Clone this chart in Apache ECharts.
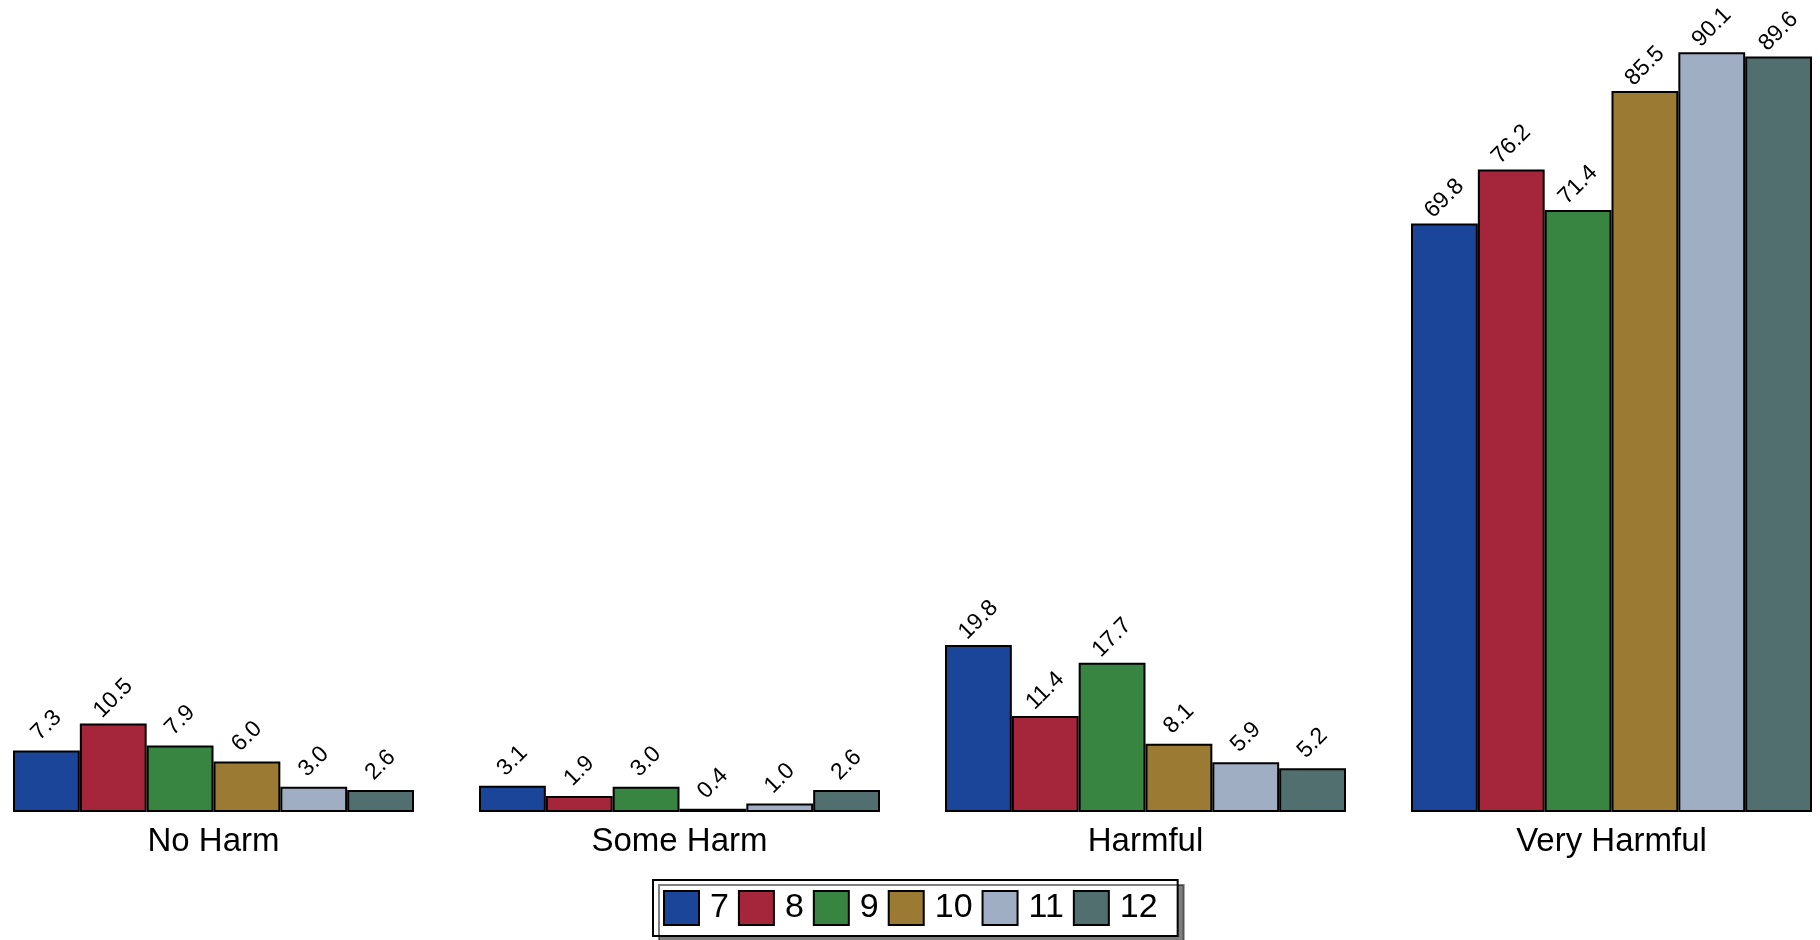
<!DOCTYPE html>
<html>
<head>
<meta charset="utf-8">
<script src="https://cdn.jsdelivr.net/npm/echarts@6/dist/echarts.min.js"></script>
<style>
html,body{margin:0;padding:0;background:#fff;}
#chart{width:1820px;height:940px;}
</style>
</head>
<body>
<div id="chart"></div>
<script>
var categories = ['No Harm', 'Some Harm', 'Harmful', 'Very Harmful'];
var grades = ['7', '8', '9', '10', '11', '12'];
var grade7 = [7.3, 3.1, 19.8, 69.8];
var grade8 = [10.5, 1.9, 11.4, 76.2];
var grade9 = [7.9, 3.0, 17.7, 71.4];
var grade10 = [6.0, 0.4, 8.1, 85.5];
var grade11 = [3.0, 1.0, 5.9, 90.1];
var grade12 = [2.6, 2.6, 5.2, 89.6];
var colors = ['#1a4599', '#a5263a', '#388541', '#9b7b34', '#a0aec4', '#516f6e'];

var seriesValues = [grade7, grade8, grade9, grade10, grade11, grade12];
var FONT = '"Liberation Sans", Arial, Helvetica, sans-serif';

var panelLefts = [13, 479, 945, 1411];
var panelWidth = 401;

var grids = [], xAxes = [], yAxes = [], series = [];
categories.forEach(function (cat, c) {
  grids.push({ left: panelLefts[c], width: panelWidth, top: 11, bottom: 128, containLabel: false });
  xAxes.push({
    type: 'category', gridIndex: c, data: [cat],
    axisLine: { show: false }, axisTick: { show: false },
    axisLabel: { fontSize: 33, color: '#000', fontFamily: FONT, margin: 13 }
  });
  yAxes.push({ type: 'value', gridIndex: c, min: 0, max: 95, show: false, splitLine: { show: false } });
  grades.forEach(function (g, i) {
    series.push({
      name: g,
      type: 'bar',
      xAxisIndex: c,
      yAxisIndex: c,
      data: [seriesValues[i][c]],
      barGap: '0%',
      barCategoryGap: '0%',
      itemStyle: { color: colors[i], borderColor: '#000', borderWidth: 2 },
      label: {
        show: true,
        position: 'top',
        distance: 25,
        rotate: 45,
        align: 'center',
        verticalAlign: 'middle',
        fontSize: 23,
        fontFamily: FONT,
        color: '#000',
        formatter: function (p) { return p.value.toFixed(1); }
      },
      emphasis: { disabled: true }
    });
  });
});

var chart = echarts.init(document.getElementById('chart'));
chart.setOption({
  animation: false,
  color: colors,
  grid: grids,
  xAxis: xAxes,
  yAxis: yAxes,
  legend: {
    data: grades,
    left: 653,
    top: 880,
    orient: 'horizontal',
    itemWidth: 35,
    itemHeight: 34,
    itemGap: 9,
    padding: [10, 20, 10, 10],
    backgroundColor: '#fff',
    borderColor: '#000',
    borderWidth: 2,
    shadowColor: 'rgba(0,0,0,0.5)',
    shadowOffsetX: 6,
    shadowOffsetY: 5,
    shadowBlur: 0,
    icon: 'rect',
    selectedMode: false,
    textStyle: { fontSize: 34, color: '#000', fontFamily: FONT, padding: [0, 0, 0, 6] }
  },
  series: series
});
</script>
</body>
</html>
